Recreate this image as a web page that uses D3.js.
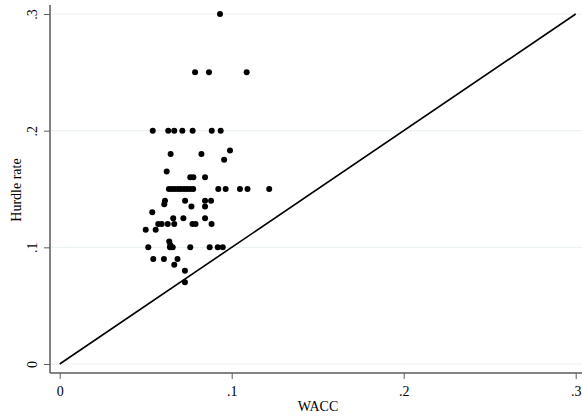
<!DOCTYPE html>
<html><head><meta charset="utf-8">
<script src="https://cdn.jsdelivr.net/npm/d3@7"></script>
<style>body{margin:0;background:#fff}svg{display:block}text{font-family:"Liberation Serif","Times New Roman",serif}</style>
</head><body>
<svg id="c" width="582" height="420"></svg>
<script>
// WACC (x) values
const wacc = [0.0932,0.0787,0.0868,0.1087,
 0.0541,0.0631,0.0666,0.0713,0.0773,0.0884,0.0936,
 0.0645,0.0824,0.0990,0.0956,0.0622,0.0759,0.0777,0.0845,
 0.0635,0.0653,0.0670,0.0688,0.0705,0.0723,0.0740,0.0758,0.0776,
 0.0922,0.0965,0.1048,0.1092,0.1218,
 0.0612,0.0608,0.0729,0.0845,0.0880,0.0766,0.0845,0.0538,
 0.0660,0.0719,0.0845,0.0573,0.0593,0.0628,0.0666,0.0772,0.0790,0.0883,
 0.0500,0.0558,0.0637,0.0643,
 0.0515,0.0641,0.0657,0.0759,0.0872,0.0919,0.0948,
 0.0544,0.0606,0.0685,0.0666,0.0728,0.0728];
// Hurdle rate (y) values
const hurdle = [0.30,0.25,0.25,0.25,
 0.20,0.20,0.20,0.20,0.20,0.20,0.20,
 0.18,0.18,0.183,0.175,0.165,0.16,0.16,0.16,
 0.15,0.15,0.15,0.15,0.15,0.15,0.15,0.15,0.15,
 0.15,0.15,0.15,0.15,0.15,
 0.14,0.137,0.14,0.14,0.14,0.135,0.135,0.13,
 0.125,0.125,0.125,0.12,0.12,0.12,0.12,0.12,0.12,0.12,
 0.115,0.115,0.105,0.102,
 0.10,0.10,0.10,0.10,0.10,0.10,0.10,
 0.09,0.09,0.09,0.085,0.08,0.07];
const xTicks = [0,0.1,0.2,0.3];
const yTicks = [0,0.1,0.2,0.3];
const lineDomain = [0,0.3];
const xTitle = "WACC", yTitle = "Hurdle rate";

const svg = d3.select("#c");
const x = d3.scaleLinear().domain([0,0.3]).range([59.7,575.7]);
const y = d3.scaleLinear().domain([0,0.3]).range([364,14]);
const fmt = d => d===0 ? "0" : d3.format(".1f")(d).replace(/^0/,"");
const axisCol = "#5a5a5a";

// gridlines
svg.append("g").selectAll("line").data(yTicks).join("line")
  .attr("x1",50).attr("x2",582).attr("y1",d=>y(d)).attr("y2",d=>y(d))
  .attr("stroke","#eaf2f3").attr("stroke-width",1.2);

// axes
const gx = svg.append("g").attr("transform","translate(0,373)")
  .call(d3.axisBottom(x).tickValues(xTicks).tickFormat(fmt).tickSize(6).tickPadding(7));
gx.select(".domain").remove();
gx.append("line").attr("x1",50).attr("x2",582).attr("stroke",axisCol).attr("stroke-width",1.5);
gx.selectAll(".tick line").attr("stroke",axisCol).attr("stroke-width",1);
gx.selectAll(".tick text").attr("font-size",14).attr("fill","#000")
  .attr("font-family","Liberation Serif, Times New Roman, serif");

const gy = svg.append("g").attr("transform","translate(50,0)")
  .call(d3.axisLeft(y).tickValues(yTicks).tickFormat(fmt).tickSize(6));
gy.select(".domain").remove();
gy.append("line").attr("y1",5).attr("y2",373).attr("stroke",axisCol).attr("stroke-width",1.5);
gy.selectAll(".tick line").attr("stroke",axisCol).attr("stroke-width",1);
gy.selectAll(".tick text").attr("font-size",14).attr("fill","#000")
  .attr("font-family","Liberation Serif, Times New Roman, serif")
  .attr("x",null).attr("dy",null)
  .attr("transform","translate(-18,0) rotate(-90)")
  .attr("text-anchor","middle").attr("dominant-baseline","central");

// titles
svg.append("text").attr("x",318).attr("y",411).attr("text-anchor","middle")
  .attr("font-size",14).text(xTitle);
svg.append("text").attr("transform","translate(16,190) rotate(-90)")
  .attr("text-anchor","middle").attr("dominant-baseline","central")
  .attr("font-size",14).text(yTitle);

// 45-degree line
svg.append("line").attr("x1",x(lineDomain[0])).attr("y1",y(lineDomain[0]))
  .attr("x2",x(lineDomain[1])).attr("y2",y(lineDomain[1]))
  .attr("stroke","#000").attr("stroke-width",1.6);

// points
svg.append("g").selectAll("circle").data(wacc.map((w,i)=>[w,hurdle[i]])).join("circle")
  .attr("cx",d=>x(d[0])).attr("cy",d=>y(d[1])).attr("r",3).attr("fill","#000");
</script>
</body></html>
